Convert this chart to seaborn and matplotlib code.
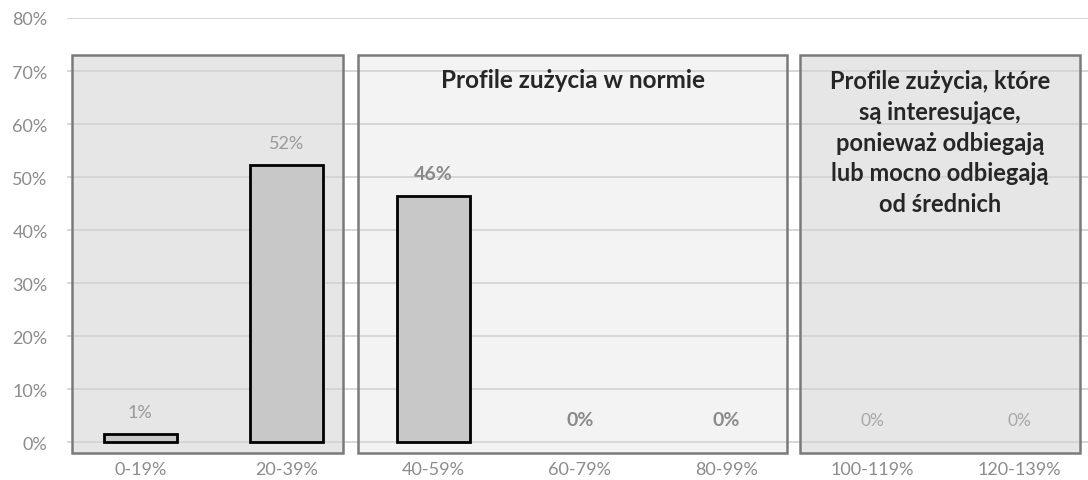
import matplotlib
matplotlib.use("Agg")
import matplotlib.pyplot as plt
import seaborn as sns
import pandas as pd
from matplotlib.patches import Rectangle

categories = ["0-19%", "20-39%", "40-59%", "60-79%", "80-99%", "100-119%", "120-139%"]
values = [1.5, 52.3, 46.5, 0, 0, 0, 0]
value_labels = ["1%", "52%", "46%", "0%", "0%", "0%", "0%"]
y_ticks = [0, 10, 20, 30, 40, 50, 60, 70, 80]
y_tick_labels = ["0%", "10%", "20%", "30%", "40%", "50%", "60%", "70%", "80%"]
box_titles = ["", "Profile zużycia w normie",
              "Profile zużycia, które\nsą interesujące,\nponieważ odbiegają\nlub mocno odbiegają\nod średnich"]

sns.set_style("white")
plt.rcParams['font.family'] = ['Lato', 'DejaVu Sans']

fig = plt.figure(figsize=(10.88, 4.81), dpi=100)
ax = fig.add_axes([0.0616, 0.0457, 0.9384, 0.9148])

df = pd.DataFrame({"cat": categories, "val": values})
sns.barplot(data=df, x="cat", y="val", ax=ax, color="#c8c8c8", edgecolor="black",
            linewidth=2, width=0.5, saturation=1, zorder=3)
for patch, v in zip(list(ax.patches), values):
    if v == 0:
        patch.set_linewidth(0)

ax.set_xlim(-0.5, 6.47)
ax.set_ylim(-3, 80)

# gridlines
for t in y_ticks:
    ax.axhline(t, color="#d4d4d4", lw=1.3, zorder=1)

# region boxes
boxes = [(-0.464, 1.386, "#e6e6e6"), (1.488, 4.416, "#f3f3f3"), (4.505, 6.416, "#e6e6e6")]
for x0, x1, fc in boxes:
    ax.add_patch(Rectangle((x0, -2.1), x1 - x0, 75.1, facecolor=fc, edgecolor="none", zorder=0.5))
    ax.add_patch(Rectangle((x0, -2.1), x1 - x0, 75.1, facecolor="none", edgecolor="#7a7a7a", lw=1.8, zorder=2))

# box titles
ax.text((boxes[1][0] + boxes[1][1]) / 2, 68.4, box_titles[1], ha="center", va="center",
        fontsize=17.5, fontweight="bold", color="#262626", zorder=4)
ax.text((boxes[2][0] + boxes[2][1]) / 2, 70.3, box_titles[2], ha="center", va="top",
        fontsize=17, fontweight="bold", color="#262626", linespacing=1.4, zorder=4)

# value labels
styles = [("normal", "#9a9a9a", 13), ("normal", "#9a9a9a", 13), ("bold", "#8a8a8a", 14),
          ("bold", "#8a8a8a", 14), ("bold", "#8a8a8a", 14), ("normal", "#a8a8a8", 12.5), ("normal", "#a8a8a8", 12.5)]
for i, (v, lab) in enumerate(zip(values, value_labels)):
    w, c, s = styles[i]
    ax.text(i, v + 4.2, lab, ha="center", va="center", fontsize=s, fontweight=w, color=c, zorder=4)

ax.set_yticks(y_ticks)
ax.set_yticklabels(y_tick_labels)
ax.set_xlabel("")
ax.set_ylabel("")
ax.tick_params(axis="y", length=0, pad=14, labelsize=13, labelcolor="#8c8c8c")
ax.tick_params(axis="x", length=0, pad=2, labelsize=13, labelcolor="#8c8c8c")
sns.despine(ax=ax, left=True, bottom=True)

fig.savefig("out.png", dpi=100)
